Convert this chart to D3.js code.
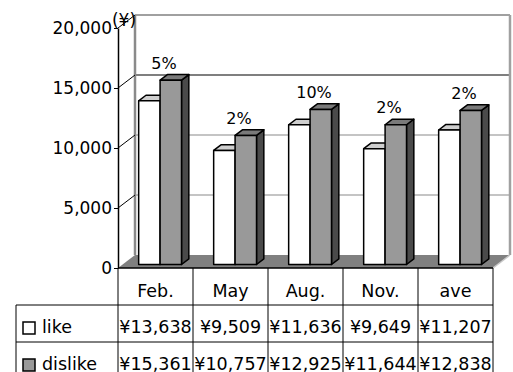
<!DOCTYPE html>
<html>
<head>
<meta charset="utf-8">
<script src="https://cdn.jsdelivr.net/npm/d3@7"></script>
<style>
  html, body { margin: 0; padding: 0; background: #fff; }
  svg { display: block; font-family: "DejaVu Sans", sans-serif; }
</style>
</head>
<body>
<svg id="chart" width="513" height="372"></svg>
<script>
// Data
const categories = ["Feb.", "May", "Aug.", "Nov.", "ave"];
const seriesNames = ["like", "dislike"];
const likeValues = [13638, 9509, 11636, 9649, 11207];
const dislikeValues = [15361, 10757, 12925, 11644, 12838];
const changeLabels = ["5%", "2%", "10%", "2%", "2%"];
const yTicks = [0, 5000, 10000, 15000, 20000];
const yUnit = "(¥)";

const series = [
  { name: seriesNames[0], values: likeValues, front: "#ffffff", top: "#cfcfcf", side: "#8c8c8c", swatch: "#ffffff" },
  { name: seriesNames[1], values: dislikeValues, front: "#999999", top: "#7a7a7a", side: "#4a4a4a", swatch: "#999999" }
];

const svg = d3.select("#chart");

// Layout of the 3D plot
const plotLeft = 118, plotRight = 493;
const plotBottom = 268, plotTop = 28;
const depth = { dx: 17, dy: -13 };          // wall depth offset
const barFrontF = 0.27, barBackF = 0.70;    // bar depth as fraction of wall depth

const x = d3.scaleBand().domain(categories).range([plotLeft, plotRight]).paddingInner(0).paddingOuter(0);
const xs = d3.scaleBand().domain(seriesNames).range([0, x.bandwidth()]).paddingInner(0).paddingOuter(0.75);
const y = d3.scaleLinear().domain([0, 20000]).range([plotBottom, plotTop]);

const gPlot = svg.append("g");

// Back wall
const bx = depth.dx, by = depth.dy;
gPlot.append("rect")
  .attr("x", plotLeft + bx).attr("y", y(20000) + by)
  .attr("width", plotRight - plotLeft).attr("height", y(0) - y(20000))
  .attr("fill", "#ffffff");

// Back-wall gridlines
gPlot.selectAll("line.grid").data(yTicks.filter(d => d > 0 && d < 20000)).join("line")
  .attr("class", "grid")
  .attr("x1", plotLeft + bx).attr("x2", plotRight + bx)
  .attr("y1", d => y(d) + by).attr("y2", d => y(d) + by)
  .attr("stroke", d => d === 15000 ? "#000" : "#8a8a8a")
  .attr("stroke-width", 1.2);

// Wall frame
gPlot.append("line")
  .attr("x1", plotLeft + bx).attr("x2", plotRight + bx)
  .attr("y1", y(20000) + by).attr("y2", y(20000) + by)
  .attr("stroke", "#a0a0a0").attr("stroke-width", 2);
gPlot.append("line")
  .attr("x1", plotLeft + bx).attr("x2", plotLeft + bx)
  .attr("y1", y(20000) + by).attr("y2", y(0) + by)
  .attr("stroke", "#8a8a8a").attr("stroke-width", 2.5);
gPlot.append("line")
  .attr("x1", plotRight + bx).attr("x2", plotRight + bx)
  .attr("y1", y(20000) + by).attr("y2", y(0) + by)
  .attr("stroke", "#a0a0a0").attr("stroke-width", 2.5);

// Side wall gridlines (front axis to back wall)
gPlot.selectAll("line.side").data(yTicks.filter(d => d > 0)).join("line")
  .attr("class", "side")
  .attr("x1", plotLeft).attr("x2", plotLeft + bx)
  .attr("y1", d => y(d)).attr("y2", d => y(d) + by)
  .attr("stroke", "#000").attr("stroke-width", 1);

// Floor
gPlot.append("polygon")
  .attr("points", [
    [plotLeft, y(0)], [plotRight, y(0)],
    [plotRight + bx, y(0) + by], [plotLeft + bx, y(0) + by]
  ].map(p => p.join(",")).join(" "))
  .attr("fill", "#808080");
gPlot.append("line")
  .attr("x1", plotRight).attr("y1", y(0))
  .attr("x2", plotRight + bx).attr("y2", y(0) + by)
  .attr("stroke", "#c8c8c8").attr("stroke-width", 1.5);

// Bars
const fx = depth.dx * barFrontF, fy = depth.dy * barFrontF;
const kx = depth.dx * barBackF, ky = depth.dy * barBackF;
const pts = a => a.map(p => p.join(",")).join(" ");

categories.forEach((cat, i) => {
  series.forEach(s => {
    const v = s.values[i];
    const x0 = x(cat) + xs(s.name), x1 = x0 + xs.bandwidth();
    const yt = y(v), yb = y(0);
    const g = gPlot.append("g").attr("stroke", "#000").attr("stroke-width", 1.5).attr("stroke-linejoin", "round");
    g.append("polygon").attr("fill", s.side)
      .attr("points", pts([[x1 + fx, yt + fy], [x1 + kx, yt + ky], [x1 + kx, yb + ky], [x1 + fx, yb + fy]]));
    g.append("polygon").attr("fill", s.top)
      .attr("points", pts([[x0 + fx, yt + fy], [x1 + fx, yt + fy], [x1 + kx, yt + ky], [x0 + kx, yt + ky]]));
    g.append("rect").attr("fill", s.front)
      .attr("x", x0 + fx).attr("y", yt + fy)
      .attr("width", x1 - x0).attr("height", yb - yt);
  });
});

// Change labels above each category
gPlot.selectAll("text.pct").data(categories).join("text")
  .attr("class", "pct")
  .attr("x", d => x(d) + x.bandwidth() / 2 + depth.dx / 2)
  .attr("y", (d, i) => y(Math.max(likeValues[i], dislikeValues[i])) - 15)
  .attr("text-anchor", "middle")
  .attr("font-size", 16)
  .attr("fill", "#000")
  .text((d, i) => changeLabels[i]);

// Front value axis
const yAxis = d3.axisLeft(y).tickValues(yTicks).tickFormat(d3.format(",")).tickSize(4).tickSizeOuter(0).tickPadding(2);
const gAxis = svg.append("g").attr("transform", `translate(${plotLeft},0)`).call(yAxis);
gAxis.select(".domain").attr("stroke", "#000").attr("stroke-width", 1.5);
gAxis.selectAll(".tick line").attr("stroke", "#000");
gAxis.selectAll(".tick text")
  .attr("font-family", "DejaVu Sans, sans-serif")
  .attr("font-size", 17).attr("fill", "#000");

// Unit label
svg.append("text")
  .attr("x", plotLeft + 6).attr("y", 26)
  .attr("text-anchor", "middle")
  .attr("font-size", 17)
  .attr("fill", "#000")
  .text(yUnit);

// Data table
const tableLeft = 16;
const rowH = 37;
const headTop = plotBottom;
const tableBottom = headTop + rowH * 3;
const gT = svg.append("g").attr("stroke", "#000").attr("stroke-width", 1);
const cols = categories.map(c => x(c)).concat([plotRight]);

gT.selectAll("line.v").data(cols).join("line")
  .attr("class", "v")
  .attr("x1", d => d).attr("x2", d => d)
  .attr("y1", headTop).attr("y2", tableBottom);
gT.append("line").attr("x1", plotLeft).attr("x2", plotRight).attr("y1", headTop).attr("y2", headTop).attr("stroke-width", 1.5);
[1, 2, 3].forEach(r => {
  gT.append("line").attr("x1", tableLeft).attr("x2", plotRight)
    .attr("y1", headTop + rowH * r).attr("y2", headTop + rowH * r);
});
gT.append("line").attr("x1", tableLeft).attr("x2", tableLeft)
  .attr("y1", headTop + rowH).attr("y2", tableBottom);

const gTxt = svg.append("g").attr("font-size", 17.5).attr("fill", "#000");
gTxt.selectAll("text.head").data(categories).join("text")
  .attr("class", "head")
  .attr("x", d => x(d) + x.bandwidth() / 2)
  .attr("y", headTop + 29)
  .attr("text-anchor", "middle")
  .text(d => d);

const yen = d3.format(",");
series.forEach((s, r) => {
  const rowY = headTop + rowH * (r + 1);
  gTxt.append("rect")
    .attr("x", tableLeft + 7).attr("y", rowY + 17)
    .attr("width", 12).attr("height", 12)
    .attr("fill", s.swatch).attr("stroke", "#000").attr("stroke-width", 1.5);
  gTxt.append("text")
    .attr("x", tableLeft + 26).attr("y", rowY + 28)
    .text(s.name);
  gTxt.selectAll(null).data(categories).join("text")
    .attr("x", d => x(d) + x.bandwidth() / 2)
    .attr("y", rowY + 28)
    .attr("text-anchor", "middle")
    .text((d, i) => "¥" + yen(s.values[i]));
});
</script>
</body>
</html>
